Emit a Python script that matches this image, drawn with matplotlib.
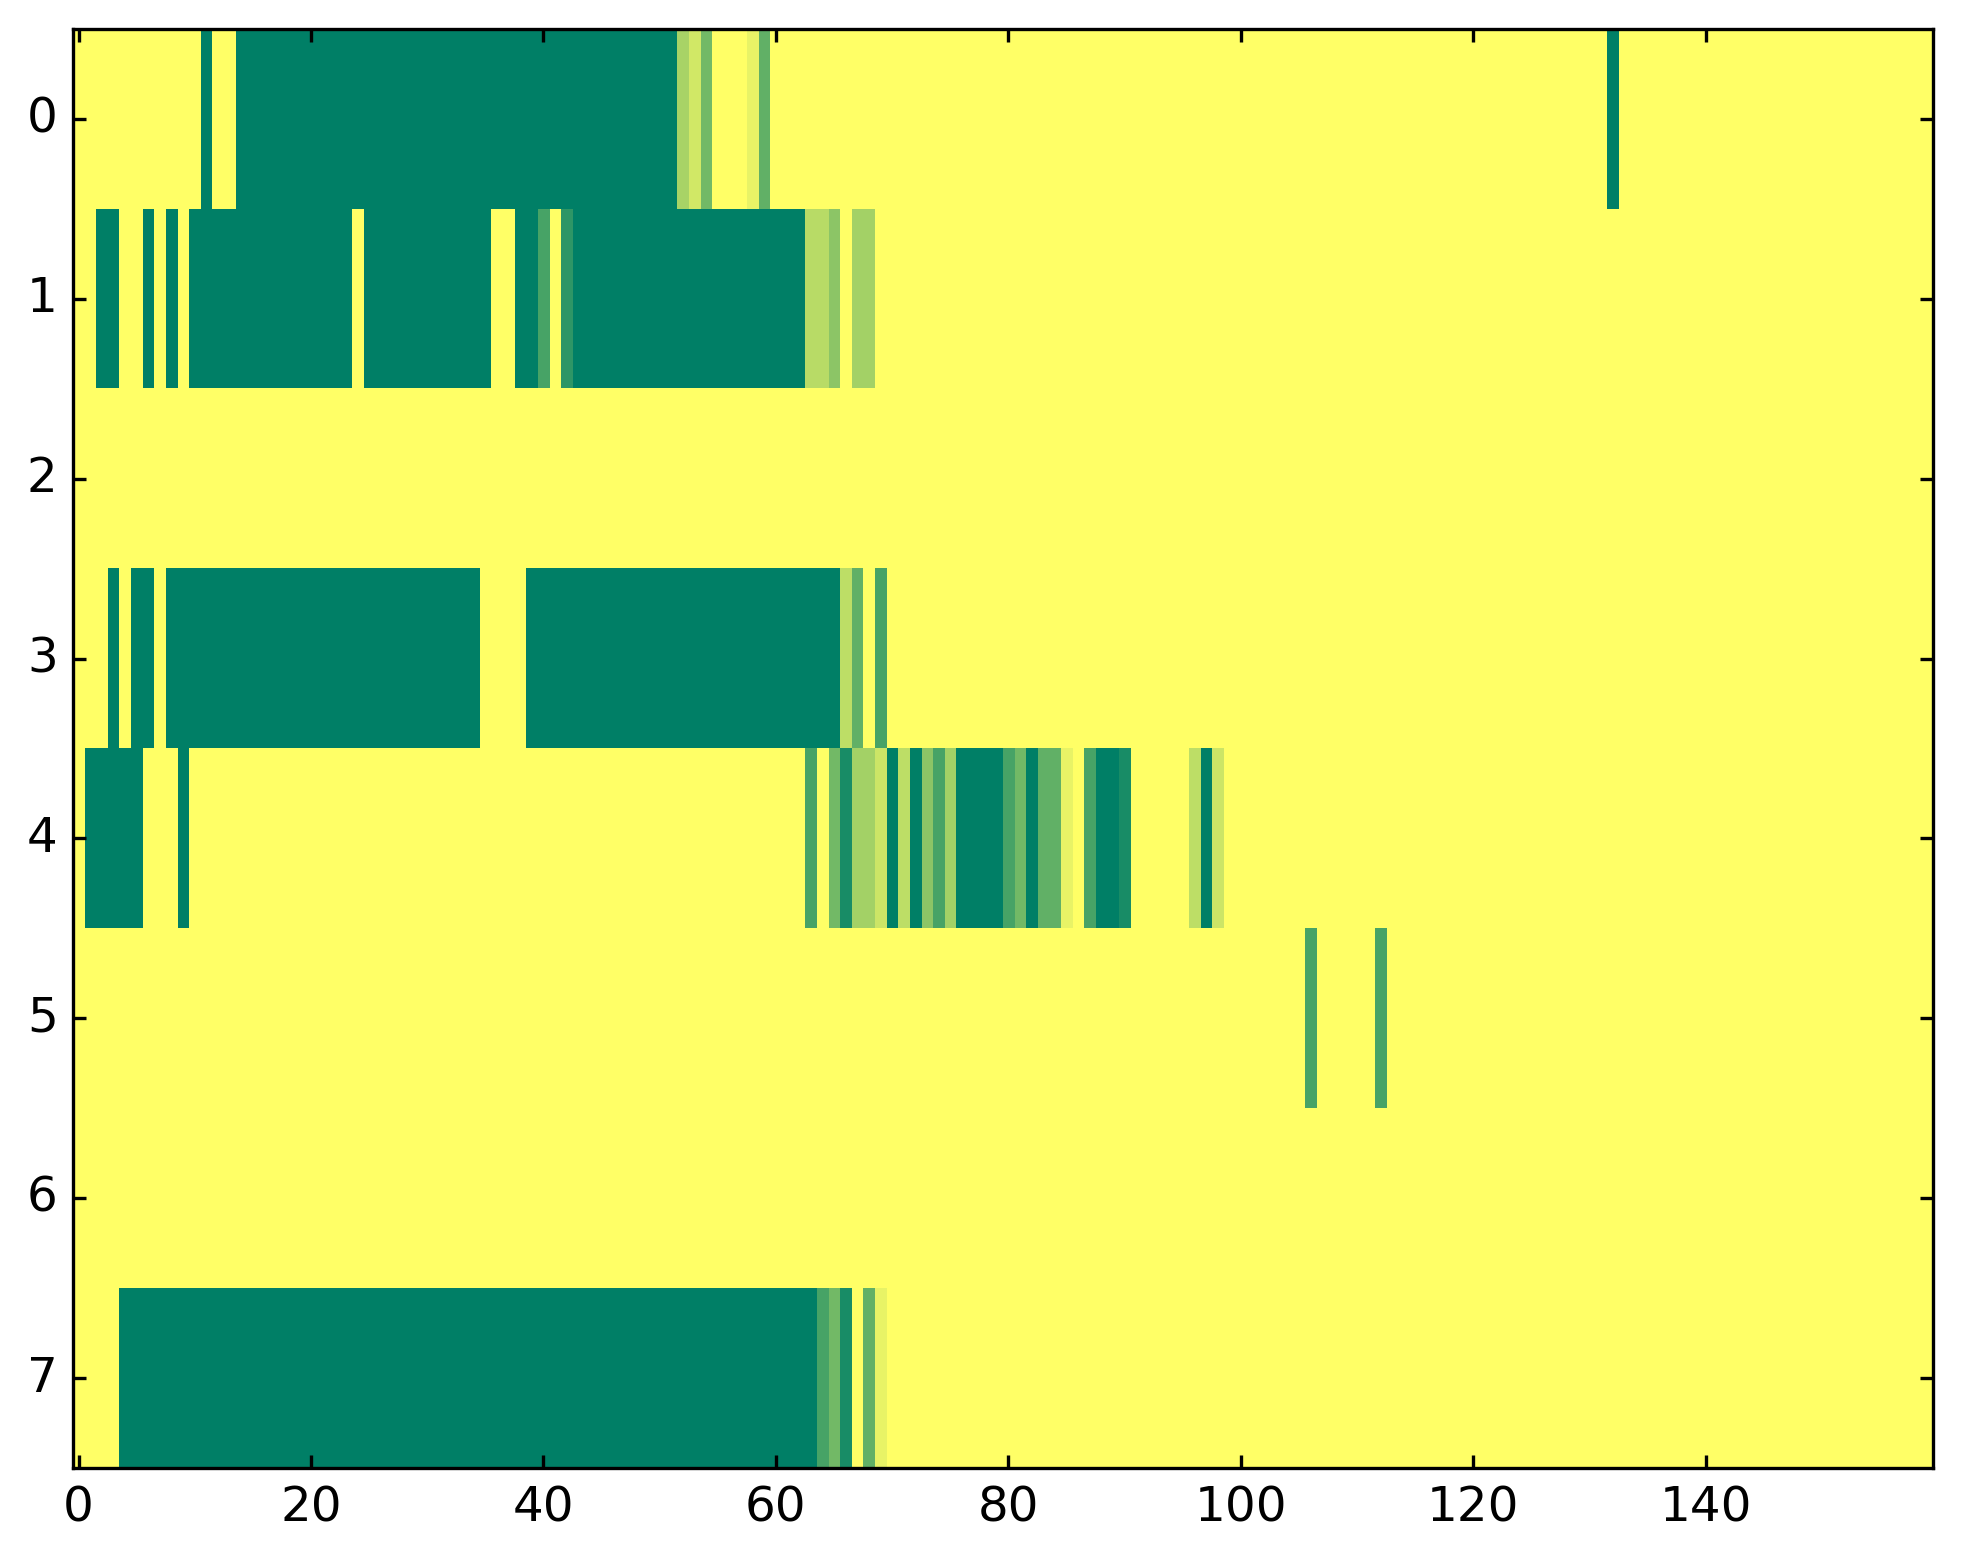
import matplotlib
matplotlib.use("Agg")
import matplotlib.pyplot as plt
import numpy as np

plt.style.use('classic')

n_rows = 8
n_cols = 160

# runs of non-zero cells per row: (first column, last column, value)
row0 = [(11, 11, 1.0), (14, 51, 1.0), (52, 52, 0.34), (53, 53, 0.18), (54, 54, 0.55),
        (58, 58, 0.09), (59, 59, 0.62), (132, 132, 1.0)]
row1 = [(2, 3, 1.0), (6, 6, 1.0), (8, 8, 1.0), (10, 23, 1.0), (25, 35, 1.0), (38, 39, 1.0),
        (40, 40, 0.72), (42, 42, 0.82), (43, 62, 1.0), (63, 64, 0.28), (65, 65, 0.45),
        (67, 68, 0.36)]
row2 = []
row3 = [(3, 3, 1.0), (5, 6, 1.0), (8, 34, 1.0), (39, 65, 1.0), (66, 66, 0.26),
        (67, 67, 0.62), (69, 69, 0.72)]
row4 = [(1, 5, 1.0), (9, 9, 1.0), (63, 63, 0.72), (65, 65, 0.55), (66, 66, 0.9),
        (67, 68, 0.36), (69, 69, 0.2), (70, 70, 1.0), (71, 71, 0.26), (72, 72, 1.0),
        (73, 73, 0.45), (74, 74, 0.72), (75, 75, 0.36), (76, 79, 1.0), (80, 80, 0.72),
        (81, 81, 0.55), (82, 82, 1.0), (83, 84, 0.62), (85, 85, 0.09), (87, 87, 0.72),
        (88, 89, 1.0), (90, 90, 0.9), (96, 96, 0.26), (97, 97, 1.0), (98, 98, 0.2)]
row5 = [(106, 106, 0.72), (112, 112, 0.72)]
row6 = []
row7 = [(4, 63, 1.0), (64, 64, 0.72), (65, 65, 0.55), (66, 66, 0.9), (68, 68, 0.62),
        (69, 69, 0.09)]

rows = [row0, row1, row2, row3, row4, row5, row6, row7]
x_ticks = [0, 20, 40, 60, 80, 100, 120, 140]
y_ticks = list(range(n_rows))

grid = np.zeros((n_rows, n_cols))
for r, runs in enumerate(rows):
    for first, last, val in runs:
        grid[r, first:last + 1] = val

W, H = 1963, 1564
fig = plt.figure(figsize=(W / 240, H / 240), dpi=240, facecolor='white')
left, right, top, bottom = 72.7, 1932.5, 29, 1468
ax = fig.add_axes([left / W, 1 - bottom / H, (right - left) / W, (bottom - top) / H])

ax.imshow(grid, cmap='summer_r', vmin=0, vmax=1, interpolation='nearest', aspect='auto')

ax.set_xticks(x_ticks)
ax.set_yticks(y_ticks)
ax.tick_params(labelsize=14.5, length=4, width=1, direction='in')
ax.tick_params(axis='x', pad=5)
ax.tick_params(axis='y', pad=4.5)
for s in ax.spines.values():
    s.set_linewidth(1.0)

fig.savefig('out.png', dpi=240, facecolor='white')
